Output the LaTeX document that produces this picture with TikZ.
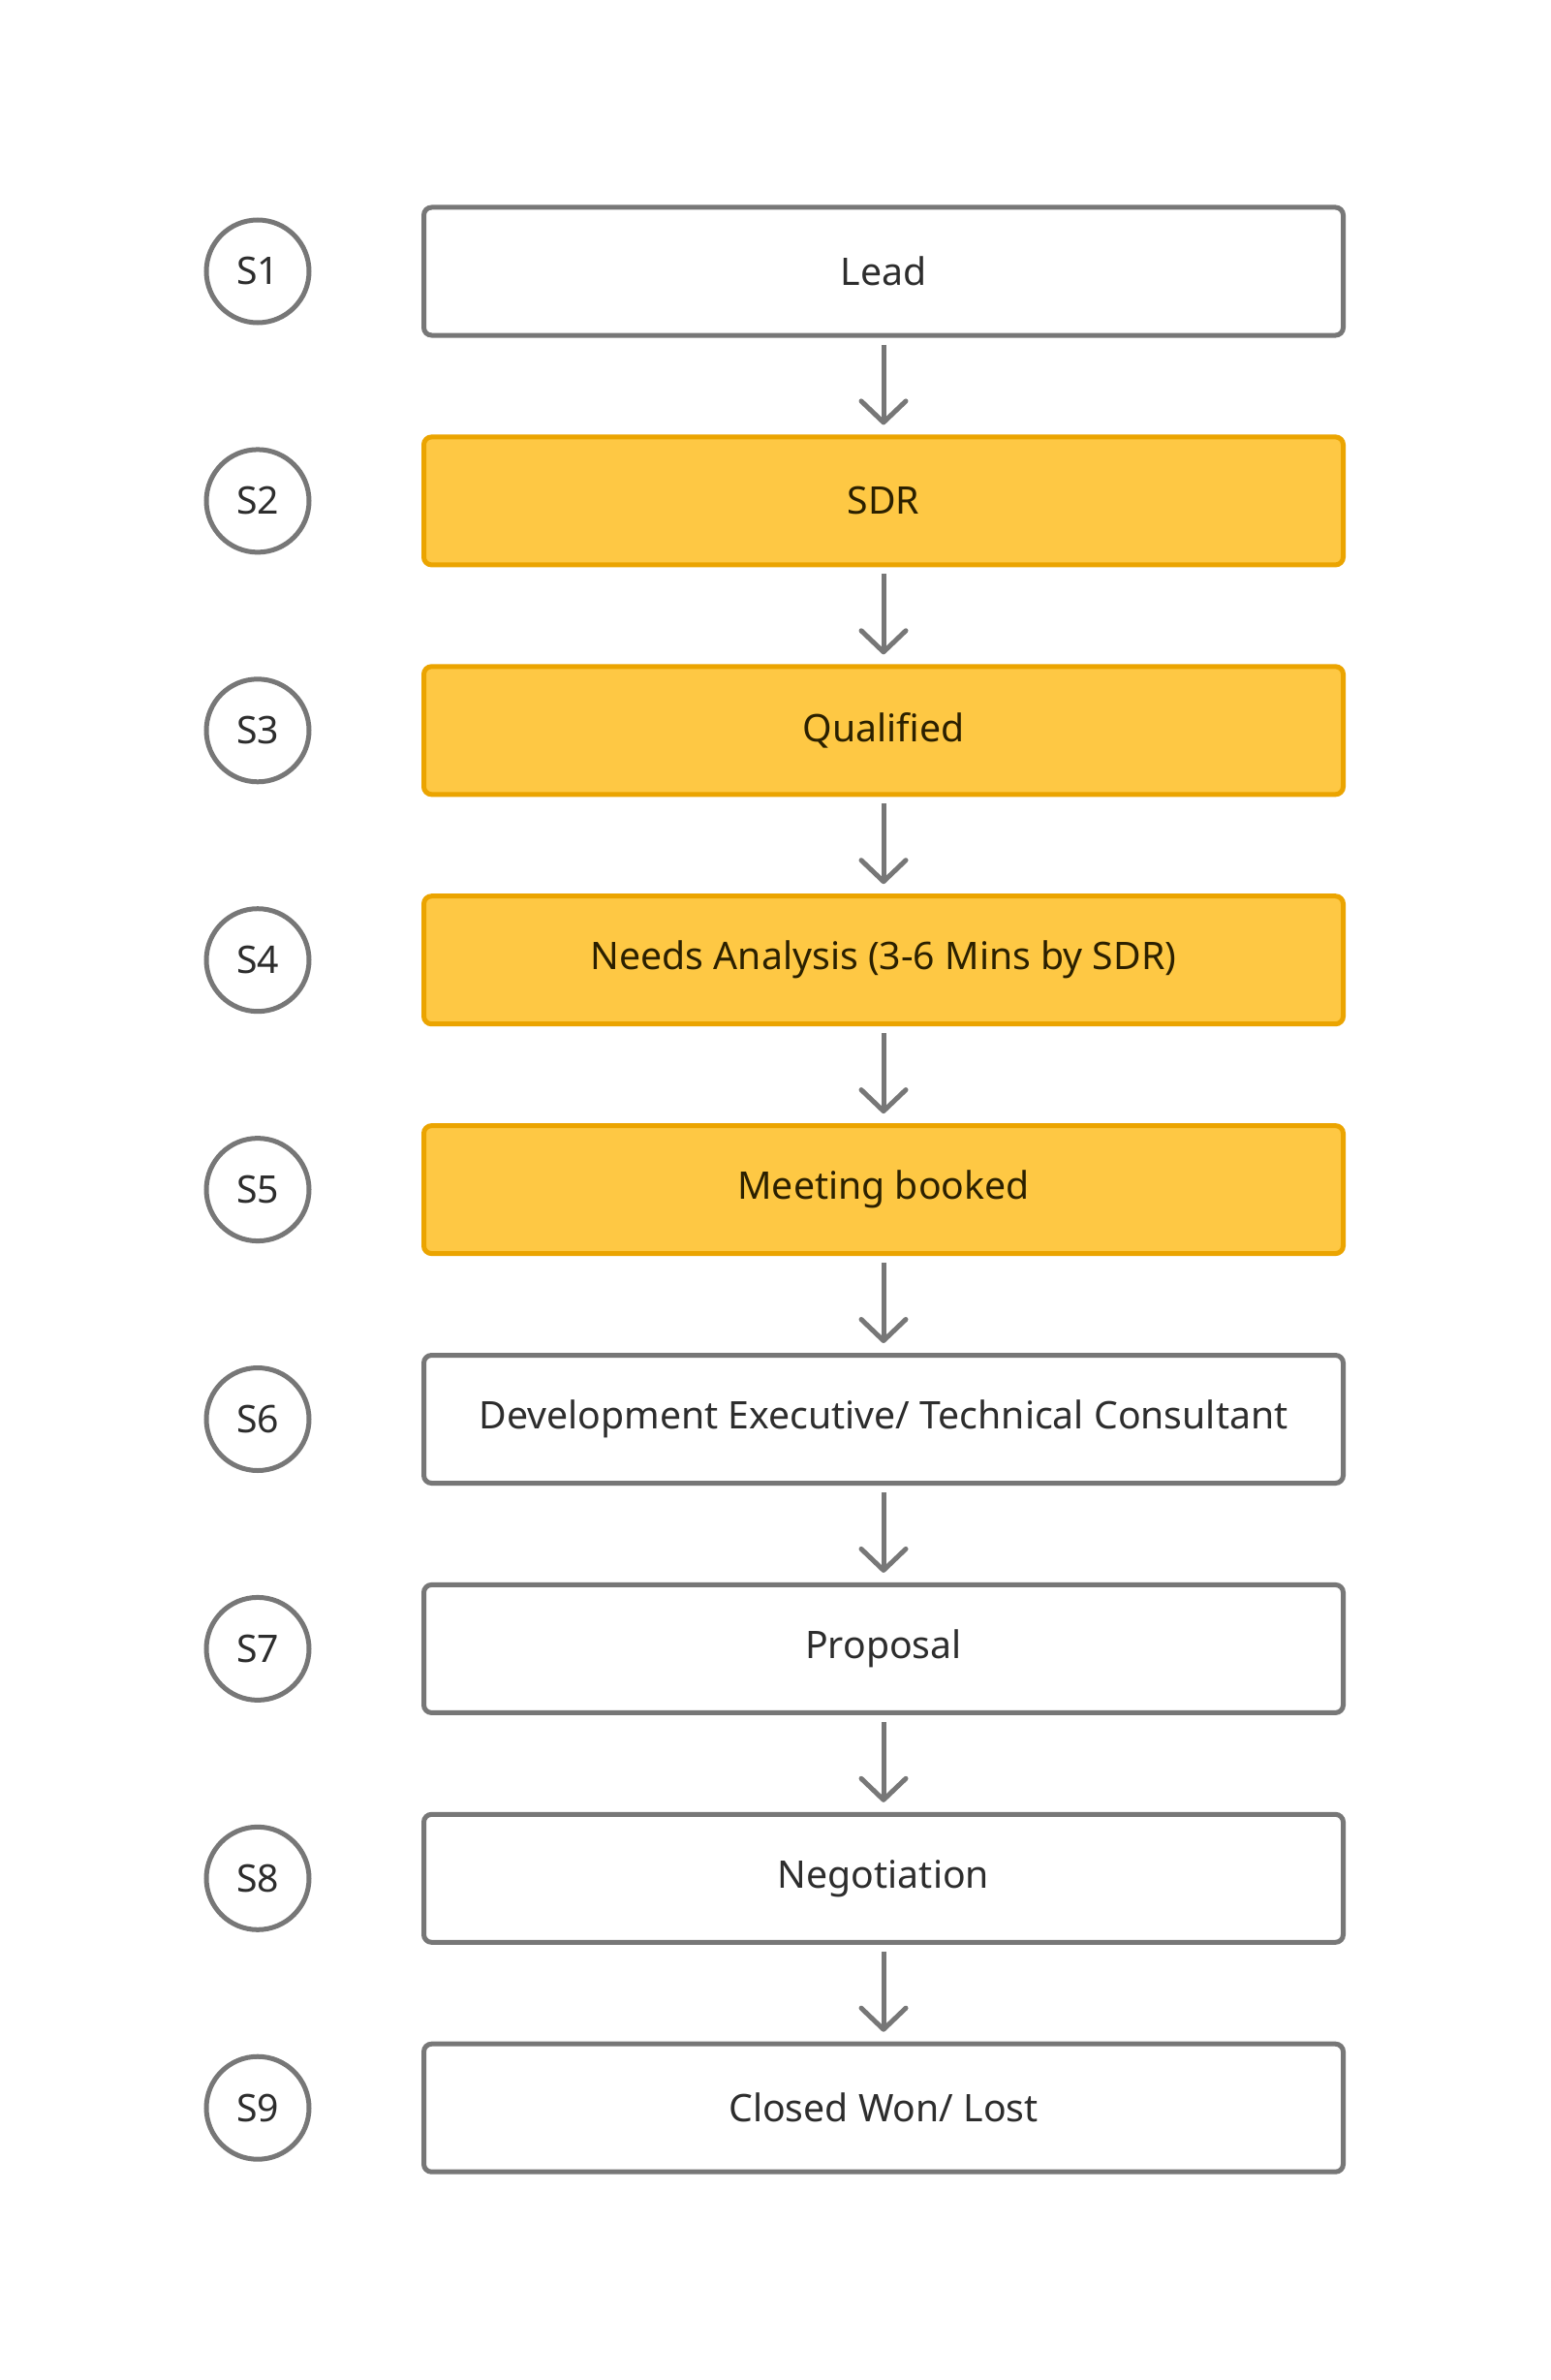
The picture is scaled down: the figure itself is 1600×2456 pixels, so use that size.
\documentclass[tikz,border=0pt]{standalone}
\usepackage{fontspec}
\setmainfont{Noto Sans}
\usetikzlibrary{arrows.meta}
\definecolor{edgegray}{HTML}{777777}
\definecolor{yfill}{HTML}{FEC844}
\definecolor{yedge}{HTML}{EBA400}
\definecolor{txt}{HTML}{2D2D2D}
\definecolor{ytxt}{HTML}{2B2000}
\begin{document}
\begin{tikzpicture}[x=1pt,y=-1pt,
  stagebox/.style={draw=edgegray, line width=5pt, rounded corners=8pt,
    minimum width=949pt, minimum height=132pt, fill=white, text=txt,
    font=\fontsize{39.2}{45}\selectfont, inner sep=0pt},
  hlbox/.style={stagebox, draw=yedge, fill=yfill, text=ytxt},
  stagenum/.style={circle, draw=edgegray, line width=5pt, minimum size=106pt,
    inner sep=0pt, fill=white, text=txt, font=\fontsize{39.2}{45}\selectfont},
  flow/.style={draw=edgegray, line width=5pt,
    -{Straight Barb[length=22pt,width=46pt,round]},
    shorten >=10pt, shorten <=7pt}]
\useasboundingbox (0,0) rectangle (1600,2456);
\fill[white] (0,0) rectangle (1600,2456);
\foreach \i/\lab/\sty in {1/Lead/stagebox, 2/SDR/hlbox, 3/Qualified/hlbox,
    4/{Needs Analysis (3-6 Mins by SDR)}/hlbox, 5/Meeting booked/hlbox,
    6/{Development Executive/ Technical Consultant}/stagebox,
    7/Proposal/stagebox, 8/Negotiation/stagebox, 9/{Closed Won/ Lost}/stagebox}{
  \node[stagenum] (s\i) at (266, {280+(\i-1)*236.9}) {S\i};
  \node[\sty] (b\i) at (912, {280+(\i-1)*236.9}) {\lab};
}
\foreach \i [evaluate=\i as \j using int(\i+1)] in {1,...,8}{
  \draw[flow] (b\i.south) -- (b\j.north);
}
\end{tikzpicture}
\end{document}
